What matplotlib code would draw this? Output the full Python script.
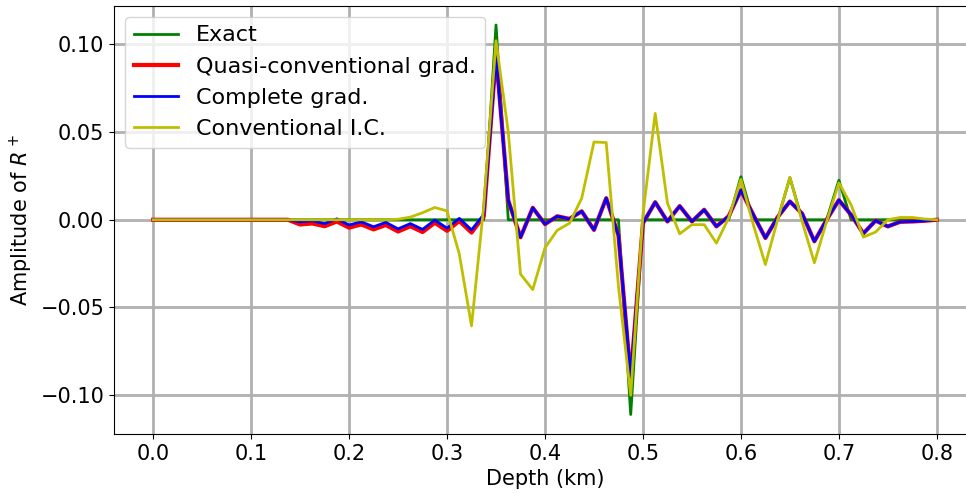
import numpy as np
import matplotlib
matplotlib.use("Agg")
import matplotlib.pyplot as plt

# Tiefenachse: 65 Abtastpunkte von 0 bis 0.8 km
depth = np.linspace(0.0, 0.8, 65)

exact = [0.0] * 28 + [0.111] + [0.0] * 10 + [-0.111] + [0.0] * 8 + [0.0245] + [0.0] * 3 + \
        [0.024] + [0.0] * 3 + [0.0225] + [0.0] * 8

complete = [0.0] * 12 + [
    -0.0012, -0.0006, -0.0022, 0.0005, -0.0030, -0.0012, -0.0040, -0.0015,
    -0.0052, -0.0022, -0.0055, -0.0002, -0.0048, 0.0008, -0.0058, 0.0030,
    0.093, 0.011, -0.0100, 0.0068, -0.0025, 0.0020, 0.0005, 0.0048,
    -0.0058, 0.0123, -0.0090, -0.089, -0.0020, 0.0100, -0.0010, 0.0078,
    -0.0010, 0.0057, -0.0038, 0.0020, 0.0168, 0.0030, -0.0104, 0.0015,
    0.0104, 0.0035, -0.0123, 0.0000, 0.0112, 0.0028, -0.0078, -0.0005,
    -0.0038, -0.0012, -0.0010, -0.0006, 0.0]

quasi = [0.0] * 12 + [
    -0.0027, -0.0021, -0.0037, -0.0010, -0.0045, -0.0027, -0.0055, -0.0030,
    -0.0067, -0.0037, -0.0070, -0.0017, -0.0063, -0.0007, -0.0073, 0.0020,
    0.094, 0.011, -0.0100, 0.0068, -0.0025, 0.0020, 0.0005, 0.0048,
    -0.0058, 0.0123, -0.0090, -0.090, -0.0020, 0.0100, -0.0010, 0.0078,
    -0.0010, 0.0057, -0.0038, 0.0020, 0.0168, 0.0030, -0.0104, 0.0015,
    0.0104, 0.0035, -0.0123, 0.0000, 0.0112, 0.0028, -0.0078, -0.0005,
    -0.0038, -0.0012, -0.0010, -0.0006, 0.0]

conventional = [0.0] * 20 + [
    0.0003, 0.0015, 0.0040, 0.0070, 0.0050, -0.0195, -0.0605, 0.0080,
    0.102, 0.050, -0.031, -0.0398, -0.0160, -0.0060, -0.0020, 0.0123,
    0.0443, 0.0440, -0.038, -0.100, 0.003, 0.0606, 0.0095, -0.0080,
    -0.0028, -0.0028, -0.0133, 0.0010, 0.0230, -0.0025, -0.0255, 0.0000,
    0.0242, -0.0010, -0.0245, -0.0010, 0.0210, 0.0085, -0.0099, -0.0070,
    0.0000, 0.0013, 0.0013, 0.0004, 0.0]

plt.rcParams['font.size'] = 15

fig = plt.figure(figsize=(9.66, 4.93), dpi=100)
# rechte Achsenkante liegt ausserhalb des Bildes (wie im Original abgeschnitten)
ax = fig.add_axes([114 / 966, 59 / 493, 862 / 966, 428.5 / 493])
ax.spines['right'].set_visible(False)

ax.plot(depth, exact, color='g', linewidth=2, label='Exact')
ax.plot(depth, quasi, color='r', linewidth=3, label='Quasi-conventional grad.')
ax.plot(depth, complete, color='b', linewidth=2, label='Complete grad.')
ax.plot(depth, conventional, color='y', linewidth=2, label='Conventional I.C.')

ax.set_xlim(-0.04, 0.84)
ax.set_xticks(np.arange(0, 0.81, 0.1))
ax.set_yticks([-0.10, -0.05, 0.0, 0.05, 0.10])
ax.set_xlabel('Depth (km)')
ax.set_ylabel('Amplitude of $R^+$')
ax.grid(True, color='#b0b0b0', linewidth=2)
ax.set_axisbelow(True)
ax.legend(loc='upper left', fontsize=16)

fig.savefig('out.png', dpi=100)
